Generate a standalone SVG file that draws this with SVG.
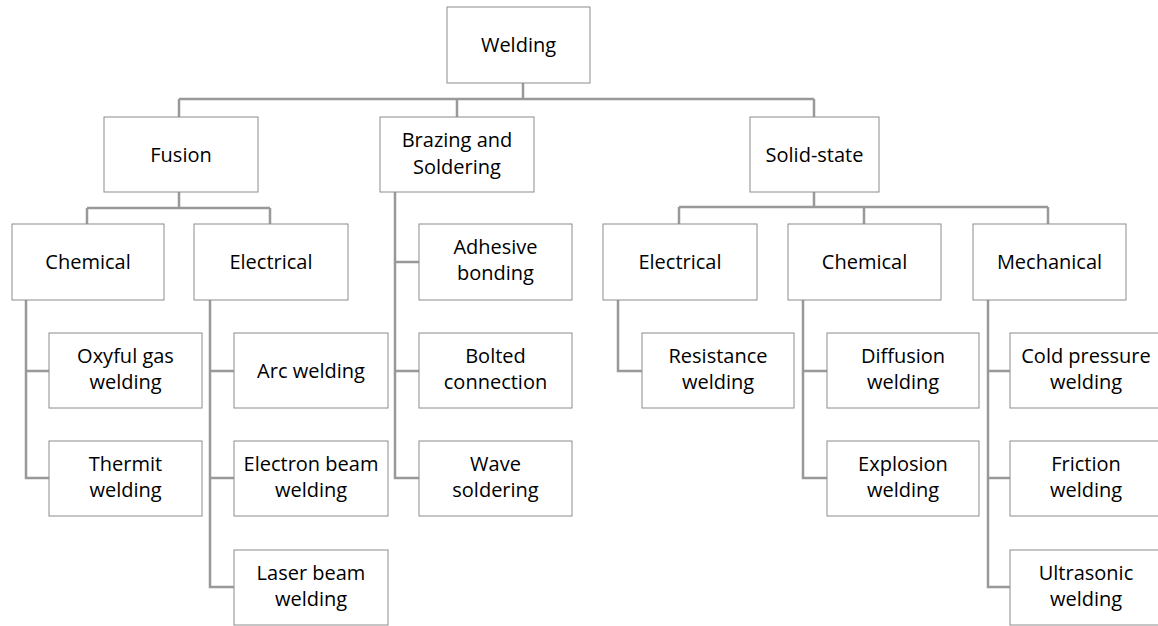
<svg xmlns="http://www.w3.org/2000/svg" width="1158" height="626" viewBox="0 0 1158 626">
<style>
.box{fill:#fff;stroke:#8c8c8c;stroke-width:1}
.t{font-family:"Open Sans","Liberation Sans",sans-serif;font-size:20px;fill:#000;text-anchor:middle}
.c{fill:none;stroke:#999;stroke-width:2.5}
</style>
<rect width="1158" height="626" fill="#fff"/>
<g id="connectors" class="c">
<path d="M523 83V99M179 99H814M179 99V117M457 99V117M814 99V117"/>
<path d="M179 192V208M87 208H270M87 208V224M270 208V224"/>
<path d="M26 300V478H49M26 371H49"/>
<path d="M210 300V587H234M210 371H234M210 478H234"/>
<path d="M395 192V478H419M395 262H419M395 371H419"/>
<path d="M814 192V207M679 207H1048M679 207V224M864 207V224M1048 207V224"/>
<path d="M618 300V371H642"/>
<path d="M803 300V478H827M803 371H827"/>
<path d="M988 300V587H1010M988 371H1010M988 478H1010"/>
</g>
<g id="welding"><rect class="box" x="447" y="7" width="143" height="76"/><text class="t" x="518.5" y="52">Welding</text></g>
<g id="fusion"><rect class="box" x="104" y="117" width="154" height="75"/><text class="t" x="181" y="162">Fusion</text></g>
<g id="brazing"><rect class="box" x="380" y="117" width="154" height="75"/><text class="t" x="457" y="147">Brazing and</text><text class="t" x="457" y="174">Soldering</text></g>
<g id="solidstate"><rect class="box" x="750" y="117" width="129" height="75"/><text class="t" x="814.5" y="162">Solid-state</text></g>
<g id="fusion-chemical"><rect class="box" x="12" y="224" width="152" height="76"/><text class="t" x="88" y="269">Chemical</text></g>
<g id="fusion-electrical"><rect class="box" x="194" y="224" width="154" height="76"/><text class="t" x="271" y="269">Electrical</text></g>
<g id="oxyful"><rect class="box" x="49" y="333" width="153" height="75"/><text class="t" x="125.5" y="363">Oxyful gas</text><text class="t" x="125.5" y="389">welding</text></g>
<g id="thermit"><rect class="box" x="49" y="441" width="153" height="75"/><text class="t" x="125.5" y="471">Thermit</text><text class="t" x="125.5" y="497">welding</text></g>
<g id="arc"><rect class="box" x="234" y="333" width="154" height="75"/><text class="t" x="311" y="378">Arc welding</text></g>
<g id="electron"><rect class="box" x="234" y="441" width="154" height="75"/><text class="t" x="311" y="471">Electron beam</text><text class="t" x="311" y="497">welding</text></g>
<g id="laser"><rect class="box" x="234" y="550" width="154" height="75"/><text class="t" x="311" y="580">Laser beam</text><text class="t" x="311" y="606">welding</text></g>
<g id="adhesive"><rect class="box" x="419" y="224" width="153" height="76"/><text class="t" x="495.5" y="254">Adhesive</text><text class="t" x="495.5" y="280">bonding</text></g>
<g id="bolted"><rect class="box" x="419" y="333" width="153" height="75"/><text class="t" x="495.5" y="363">Bolted</text><text class="t" x="495.5" y="389">connection</text></g>
<g id="wave"><rect class="box" x="419" y="441" width="153" height="75"/><text class="t" x="495.5" y="471">Wave</text><text class="t" x="495.5" y="497">soldering</text></g>
<g id="ss-electrical"><rect class="box" x="603" y="224" width="154" height="76"/><text class="t" x="680" y="269">Electrical</text></g>
<g id="resistance"><rect class="box" x="642" y="333" width="152" height="75"/><text class="t" x="718" y="363">Resistance</text><text class="t" x="718" y="389">welding</text></g>
<g id="ss-chemical"><rect class="box" x="788" y="224" width="153" height="76"/><text class="t" x="864.5" y="269">Chemical</text></g>
<g id="diffusion"><rect class="box" x="827" y="333" width="152" height="75"/><text class="t" x="903" y="363">Diffusion</text><text class="t" x="903" y="389">welding</text></g>
<g id="explosion"><rect class="box" x="827" y="441" width="152" height="75"/><text class="t" x="903" y="471">Explosion</text><text class="t" x="903" y="497">welding</text></g>
<g id="mechanical"><rect class="box" x="973" y="224" width="153" height="76"/><text class="t" x="1049.5" y="269">Mechanical</text></g>
<g id="coldpressure"><rect class="box" x="1010" y="333" width="152" height="75"/><text class="t" x="1086" y="363">Cold pressure</text><text class="t" x="1086" y="389">welding</text></g>
<g id="friction"><rect class="box" x="1010" y="441" width="152" height="75"/><text class="t" x="1086" y="471">Friction</text><text class="t" x="1086" y="497">welding</text></g>
<g id="ultrasonic"><rect class="box" x="1010" y="550" width="152" height="75"/><text class="t" x="1086" y="580">Ultrasonic</text><text class="t" x="1086" y="606">welding</text></g>
</svg>
